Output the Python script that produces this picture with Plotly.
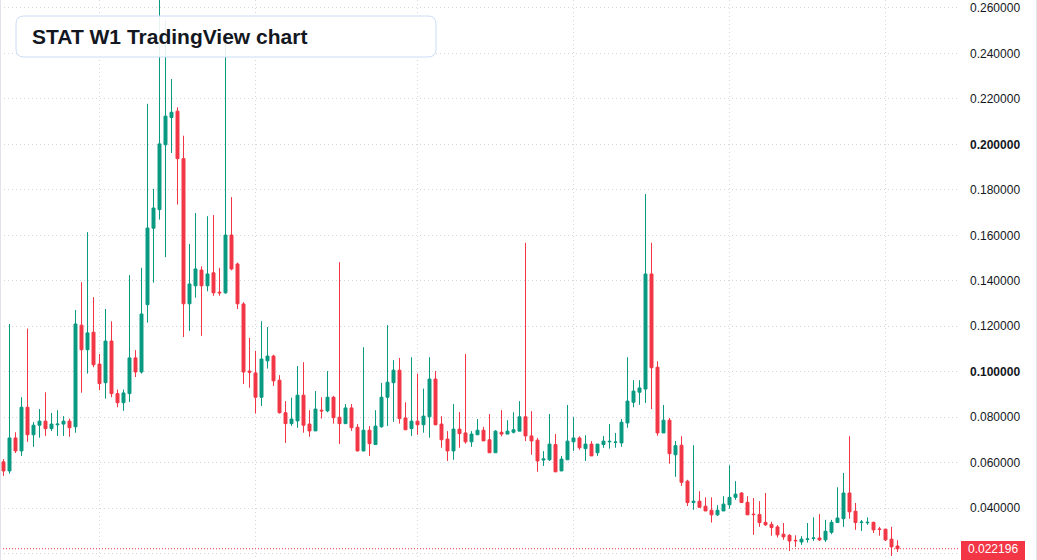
import plotly.graph_objects as go

# ---- data (weekly candles) ----
weeks = list(range(150))

opens = [0.0604,0.0564,0.0709,0.0652,0.0844,0.0723,0.0765,0.0783,0.0750,0.0767,
         0.0770,0.0783,0.0758,0.1205,0.1097,0.1174,0.1034,0.0952,0.1135,0.0904,
         0.0864,0.0904,0.1061,0.0999,0.1295,0.1631,0.1713,0.1998,0.2118,0.2146,
         0.1937,0.1299,0.1378,0.1447,0.1378,0.1435,0.1350,0.1347,0.1601,0.1474,
         0.1298,0.1003,0.0995,0.0888,0.1048,0.1069,0.0963,0.0820,0.0772,0.0784,
         0.0897,0.0770,0.0740,0.0831,0.0828,0.0888,0.0800,0.0772,0.0841,0.0756,
         0.0652,0.0743,0.0680,0.0758,0.0888,0.0952,0.1007,0.0797,0.0750,0.0783,
         0.0767,0.0802,0.0968,0.0770,0.0704,0.0652,0.0748,0.0731,0.0692,0.0723,
         0.0743,0.0701,0.0644,0.0734,0.0726,0.0734,0.0739,0.0802,0.0718,0.0699,
         0.0612,0.0613,0.0680,0.0564,0.0613,0.0692,0.0709,0.0662,0.0682,0.0644,
         0.0680,0.0692,0.0689,0.0687,0.0775,0.0866,0.0910,0.0924,0.1430,0.1020,
         0.0731,0.0787,0.0635,0.0677,0.0519,0.0425,0.0431,0.0409,0.0391,0.0371,
         0.0388,0.0415,0.0448,0.0467,0.0426,0.0374,0.0372,0.0338,0.0329,0.0318,
         0.0286,0.0281,0.0259,0.0252,0.0263,0.0267,0.0269,0.0261,0.0294,0.0337,
         0.0354,0.0467,0.0387,0.0337,0.0336,0.0338,0.0309,0.0308,0.0264,0.0234]

highs = [0.0616,0.1210,0.0734,0.0888,0.1190,0.0778,0.0836,0.0910,0.0819,0.0831,
         0.0805,0.0794,0.1271,0.1394,0.1614,0.1328,0.1078,0.1276,0.1222,0.0922,
         0.0922,0.1425,0.1095,0.1457,0.2178,0.1804,0.2680,0.2547,0.2287,0.2163,
         0.2038,0.1562,0.1698,0.1464,0.1684,0.1689,0.1457,0.2460,0.1768,0.1480,
         0.1306,0.1149,0.1092,0.1222,0.1197,0.1075,0.0985,0.0871,0.0886,0.1025,
         0.1042,0.0831,0.0915,0.0888,0.1003,0.0894,0.1482,0.0858,0.0858,0.0770,
         0.1108,0.0761,0.0831,0.0951,0.1205,0.1051,0.1061,0.0866,0.1064,0.0992,
         0.0926,0.1064,0.1003,0.0805,0.0739,0.0858,0.0823,0.1078,0.0739,0.0792,
         0.0758,0.0814,0.0743,0.0831,0.0787,0.0822,0.0871,0.1567,0.0827,0.0709,
         0.0651,0.0814,0.0726,0.0630,0.0854,0.0800,0.0716,0.0721,0.0695,0.0682,
         0.0718,0.0770,0.0731,0.0792,0.1064,0.0963,0.0963,0.1782,0.1567,0.1046,
         0.0854,0.0797,0.0696,0.0717,0.0525,0.0677,0.0475,0.0448,0.0448,0.0413,
         0.0453,0.0589,0.0519,0.0470,0.0453,0.0445,0.0431,0.0467,0.0341,0.0326,
         0.0335,0.0286,0.0281,0.0277,0.0335,0.0360,0.0374,0.0349,0.0349,0.0492,
         0.0555,0.0717,0.0423,0.0348,0.0360,0.0341,0.0318,0.0308,0.0318,0.0259]

lows = [0.0542,0.0552,0.0643,0.0630,0.0692,0.0670,0.0710,0.0718,0.0740,0.0718,
        0.0718,0.0714,0.0732,0.0908,0.0992,0.1020,0.0919,0.0882,0.0888,0.0844,
        0.0828,0.0867,0.0977,0.0992,0.1216,0.1392,0.1669,0.1504,0.1962,0.1735,
        0.1153,0.1180,0.1326,0.1158,0.1354,0.1334,0.1334,0.1343,0.1446,0.1276,
        0.0946,0.0930,0.0816,0.0849,0.1014,0.0938,0.0816,0.0687,0.0762,0.0754,
        0.0732,0.0714,0.0740,0.0794,0.0822,0.0772,0.0682,0.0772,0.0740,0.0650,
        0.0650,0.0630,0.0678,0.0754,0.0762,0.0780,0.0772,0.0745,0.0718,0.0723,
        0.0732,0.0710,0.0765,0.0666,0.0608,0.0613,0.0666,0.0684,0.0670,0.0723,
        0.0696,0.0644,0.0644,0.0716,0.0726,0.0729,0.0739,0.0695,0.0635,0.0560,
        0.0586,0.0608,0.0560,0.0564,0.0613,0.0652,0.0657,0.0608,0.0630,0.0630,
        0.0666,0.0662,0.0666,0.0670,0.0754,0.0844,0.0855,0.0863,0.0836,0.0718,
        0.0731,0.0596,0.0538,0.0498,0.0410,0.0393,0.0404,0.0388,0.0337,0.0366,
        0.0388,0.0398,0.0437,0.0425,0.0371,0.0283,0.0318,0.0322,0.0279,0.0271,
        0.0261,0.0212,0.0230,0.0239,0.0249,0.0256,0.0256,0.0252,0.0286,0.0337,
        0.0318,0.0354,0.0305,0.0300,0.0327,0.0291,0.0279,0.0256,0.0190,0.0208]

closes = [0.0564,0.0709,0.0652,0.0844,0.0723,0.0765,0.0783,0.0750,0.0770,0.0770,
          0.0783,0.0754,0.1210,0.1097,0.1171,0.1031,0.0948,0.1135,0.0904,0.0864,
          0.0907,0.1061,0.0999,0.1254,0.1632,0.1720,0.2002,0.2124,0.2141,0.1937,
          0.1299,0.1386,0.1452,0.1378,0.1430,0.1347,0.1347,0.1601,0.1452,0.1299,
          0.0999,0.0998,0.0888,0.1056,0.1069,0.0960,0.0820,0.0772,0.0792,0.0897,
          0.0765,0.0740,0.0836,0.0828,0.0888,0.0798,0.0772,0.0841,0.0754,0.0652,
          0.0743,0.0684,0.0761,0.0888,0.0954,0.1007,0.0794,0.0745,0.0783,0.0767,
          0.0805,0.0968,0.0767,0.0701,0.0652,0.0748,0.0728,0.0692,0.0726,0.0743,
          0.0696,0.0644,0.0739,0.0726,0.0739,0.0745,0.0802,0.0718,0.0696,0.0608,
          0.0617,0.0682,0.0560,0.0616,0.0695,0.0709,0.0666,0.0682,0.0630,0.0682,
          0.0695,0.0694,0.0691,0.0778,0.0871,0.0915,0.0929,0.1430,0.1018,0.0731,
          0.0787,0.0640,0.0675,0.0514,0.0425,0.0431,0.0404,0.0388,0.0371,0.0391,
          0.0418,0.0448,0.0462,0.0425,0.0371,0.0372,0.0337,0.0327,0.0315,0.0283,
          0.0274,0.0256,0.0257,0.0264,0.0265,0.0269,0.0261,0.0299,0.0338,0.0357,
          0.0467,0.0384,0.0337,0.0339,0.0338,0.0305,0.0307,0.0261,0.0230,0.022196]

last_price = 0.022196
last_price_label = "0.022196"
title_text = "STAT W1 TradingView chart"

price_ticks = [0.02, 0.04, 0.06, 0.08, 0.10, 0.12, 0.14, 0.16, 0.18, 0.20, 0.22, 0.24, 0.26]
price_tick_labels = ["", "0.040000", "0.060000", "0.080000", "<b>0.100000</b>", "0.120000",
                     "0.140000", "0.160000", "0.180000", "<b>0.200000</b>", "0.220000",
                     "0.240000", "0.260000"]
time_grid_weeks = [16, 42, 69, 95, 121, 147]

# ---- style ----
GREEN = "#089981"
RED = "#F23645"
TEXT = "#131722"
GRID = "#d3d6dc"
FONT = "Liberation Sans, Arial, sans-serif"

W, H = 1037, 560
PLOT_W = 960
MR = W - PLOT_W

fig = go.Figure(go.Candlestick(
    x=weeks, open=opens, high=highs, low=lows, close=closes,
    increasing=dict(line=dict(color=GREEN, width=1), fillcolor=GREEN),
    decreasing=dict(line=dict(color=RED, width=1), fillcolor=RED),
    whiskerwidth=0, hoverinfo="skip", showlegend=False,
))

x0 = -0.583
fig.update_layout(
    width=W, height=H,
    margin=dict(l=0, r=MR, t=0, b=0, pad=0),
    paper_bgcolor="white", plot_bgcolor="white",
    showlegend=False,
    font=dict(family=FONT, color=TEXT, size=12),
    xaxis=dict(
        range=[x0, x0 + PLOT_W / 6.0],
        tickvals=time_grid_weeks, showticklabels=False, ticks="",
        showgrid=True, gridcolor=GRID, griddash="1px,3px", gridwidth=1,
        zeroline=False, showline=False,
        rangeslider=dict(visible=False), fixedrange=True,
    ),
    yaxis=dict(
        side="right", range=[0.01724, 0.26346],
        tickvals=price_ticks, ticktext=price_tick_labels,
        tickfont=dict(family=FONT, size=12, color=TEXT),
        ticks="", ticklabelstandoff=9,
        showgrid=True, gridcolor=GRID, griddash="1px,3px", gridwidth=1,
        zeroline=False, showline=False, fixedrange=True,
    ),
)

def px_x(p):
    return p / PLOT_W

def px_y(p):
    return 1 - p / H

# title box with rounded corners
bx1, bx2, by1, by2, r = 16, 436, 16, 57, 8
X1, X2 = px_x(bx1), px_x(bx2)
Y1, Y2 = px_y(by1), px_y(by2)
rx, ry = r / PLOT_W, r / H
path = (f"M {X1+rx},{Y1} L {X2-rx},{Y1} Q {X2},{Y1} {X2},{Y1-ry} "
        f"L {X2},{Y2+ry} Q {X2},{Y2} {X2-rx},{Y2} "
        f"L {X1+rx},{Y2} Q {X1},{Y2} {X1},{Y2+ry} "
        f"L {X1},{Y1-ry} Q {X1},{Y1} {X1+rx},{Y1} Z")

shapes = [
    dict(type="line", xref="paper", yref="y", x0=0, x1=1, y0=last_price, y1=last_price,
         line=dict(color=RED, width=1, dash="1px,2px"), layer="above"),
    dict(type="path", xref="paper", yref="paper", path=path,
         fillcolor="rgba(255,255,255,0.9)", line=dict(color="#cbdcf7", width=1), layer="above"),
    dict(type="rect", xref="paper", yref="paper", x0=px_x(961), x1=px_x(1025),
         y0=px_y(560), y1=px_y(541), fillcolor=RED, line=dict(width=0), layer="above"),
    dict(type="line", xref="paper", yref="paper", x0=px_x(0.5), x1=px_x(0.5), y0=0, y1=1,
         line=dict(color="#e0e3eb", width=1), layer="above"),
    dict(type="line", xref="paper", yref="paper", x0=px_x(1036.5), x1=px_x(1036.5), y0=0, y1=1,
         line=dict(color="#e0e3eb", width=1), layer="above"),
]
fig.update_layout(shapes=shapes)

fig.add_annotation(xref="paper", yref="paper", x=px_x(30), y=px_y(37),
                   xanchor="left", yanchor="middle", showarrow=False,
                   text=f"<b>{title_text}</b>",
                   font=dict(family=FONT, size=21, color=TEXT))
fig.add_annotation(xref="paper", yref="y", x=px_x(993), y=last_price,
                   xanchor="center", yanchor="middle", showarrow=False,
                   text=last_price_label, font=dict(family=FONT, size=12, color="white"))

fig.write_html("out.html")
